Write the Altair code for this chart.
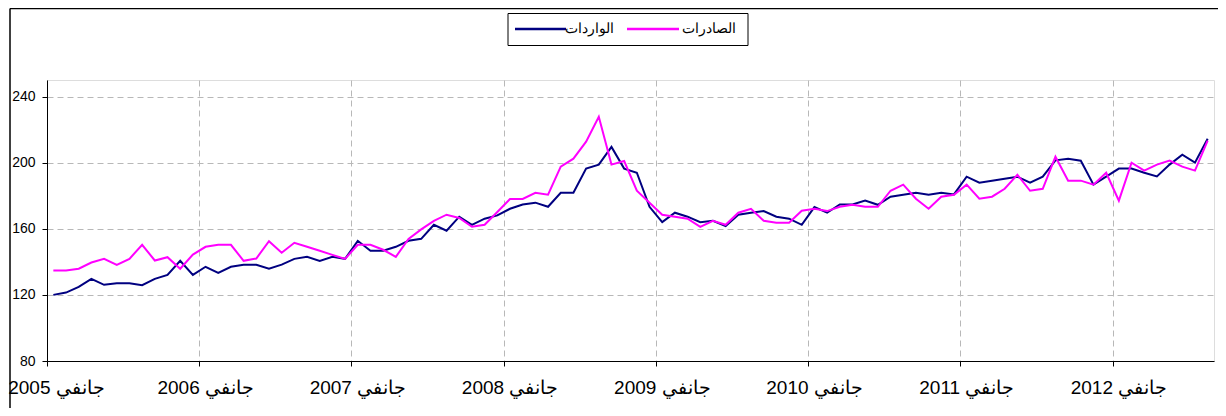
import altair as alt
import pandas as pd

imports_vals = [120.0, 121.4, 124.8, 129.7, 126.1, 127.1, 127.1, 125.9, 129.7, 132.1, 140.6, 132.1,
                137.0, 133.3, 137.0, 138.2, 138.2, 135.8, 138.3, 141.8, 143.0, 140.6, 143.0, 141.8,
                152.7, 146.7, 146.7, 149.1, 152.7, 153.9, 162.4, 158.8, 167.3, 162.4, 166.1, 168.1,
                172.1, 174.7, 175.8, 173.3, 181.8, 181.8, 196.4, 198.8, 209.5, 196.4, 193.9, 173.3,
                164.0, 169.7, 167.3, 164.0, 164.8, 161.6, 168.5, 169.7, 170.7, 167.3, 166.1, 162.4,
                173.1, 169.7, 174.7, 174.7, 177.0, 174.5, 179.4, 180.6, 181.8, 180.6, 181.8, 180.8,
                191.5, 187.9, 189.1, 190.3, 191.5, 187.9, 191.5, 201.4, 202.4, 201.2, 186.7, 191.5,
                196.4, 196.4, 193.9, 191.7, 198.8, 204.8, 200.0, 214.5]

exports_vals = [134.7, 134.7, 135.8, 139.6, 141.8, 138.2, 141.8, 150.3, 140.8, 142.8, 135.8, 144.4,
                149.1, 150.3, 150.3, 140.6, 142.0, 152.5, 145.5, 151.5, 149.1, 146.7, 144.2, 141.8,
                150.3, 150.3, 147.3, 143.0, 153.9, 159.6, 164.8, 168.5, 166.5, 161.2, 162.4, 170.1,
                178.0, 178.0, 181.8, 180.6, 197.6, 202.4, 212.7, 227.7, 198.8, 201.0, 183.0, 175.8,
                168.5, 167.3, 166.1, 161.2, 164.8, 162.4, 169.7, 172.1, 164.8, 163.6, 163.6, 170.9,
                172.1, 170.7, 173.3, 174.5, 173.3, 173.3, 183.0, 186.7, 178.2, 172.1, 179.4, 180.6,
                186.7, 178.2, 179.4, 184.2, 192.7, 183.0, 184.2, 203.6, 189.1, 189.1, 186.7, 193.9,
                177.0, 200.0, 195.2, 198.8, 201.2, 197.6, 195.2, 213.3]

series_names = ["الواردات", "الصادرات"]
series_colors = ["#000080", "#FF00FF"]
year_labels = ["جانفي 2005", "جانفي 2006", "جانفي 2007", "جانفي 2008",
               "جانفي 2009", "جانفي 2010", "جانفي 2011", "جانفي 2012"]
y_ticks = [80, 120, 160, 200, 240]

rows = []
for i, v in enumerate(imports_vals):
    rows.append({"m": i + 0.5, "v": v, "s": series_names[0]})
for i, v in enumerate(exports_vals):
    rows.append({"m": i + 0.5, "v": v, "s": series_names[1]})
df = pd.DataFrame(rows)

n_months = len(imports_vals)
label_arr = "[" + ",".join("'" + t + "'" for t in year_labels) + "]"

lines = alt.Chart(df).mark_line(strokeWidth=2).encode(
    x=alt.X("m:Q", scale=alt.Scale(domain=[0, n_months], nice=False, zero=False),
            axis=alt.Axis(values=[12 * k for k in range(len(year_labels))],
                          labelExpr=label_arr + "[round(datum.value/12)]",
                          title=None, grid=True, gridDash=[6, 4], gridColor="#b8b8b8",
                          domainColor="black", tickColor="black", tickSize=5,
                          labelFontSize=19, labelColor="black",
                          labelOffset={"condition": {"test": "datum.value == 0", "value": 9},
                                       "value": 6},
                          labelPadding=12,
                          labelFont="Liberation Sans", labelFlush=False)),
    y=alt.Y("v:Q", scale=alt.Scale(domain=[80, 250], nice=False, zero=False),
            axis=alt.Axis(values=y_ticks, title=None, grid=True, gridDash=[6, 4],
                          gridColor="#b8b8b8", domainColor="black", tickColor="black",
                          tickSize=5, labelFontSize=14, labelColor="black", labelPadding=7,
                          labelFont="Liberation Sans")),
    color=alt.Color("s:N", scale=alt.Scale(domain=series_names, range=series_colors),
                    legend=None),
)

one = pd.DataFrame({"d": [0]})

# frame of the chart
left_border = alt.Chart(one).mark_rule(color="black", strokeWidth=1.5).encode(
    x=alt.value(-37), y=alt.value(-71.5), y2=alt.value(330))
top_border = alt.Chart(one).mark_rule(color="black", strokeWidth=1.5).encode(
    x=alt.value(-37), x2=alt.value(1175), y=alt.value(-71.5))

# legend drawn by hand
leg_box = alt.Chart(one).mark_rect(fill="white", stroke="black", strokeWidth=1).encode(
    x=alt.value(461), x2=alt.value(701), y=alt.value(-66.5), y2=alt.value(-34.5))
leg_sym1 = alt.Chart(one).mark_rule(color=series_colors[0], strokeWidth=2.5).encode(
    x=alt.value(468), x2=alt.value(519), y=alt.value(-51))
leg_sym2 = alt.Chart(one).mark_rule(color=series_colors[1], strokeWidth=2.5).encode(
    x=alt.value(580), x2=alt.value(632), y=alt.value(-51))
leg_txt1 = alt.Chart(one).mark_text(align="center", baseline="middle", fontSize=13.5,
                                    font="Liberation Sans", color="black",
                                    text=series_names[0]).encode(
    x=alt.value(542), y=alt.value(-51))
leg_txt2 = alt.Chart(one).mark_text(align="center", baseline="middle", fontSize=13.5,
                                    font="Liberation Sans", color="black",
                                    text=series_names[1]).encode(
    x=alt.value(662), y=alt.value(-51))

chart = alt.layer(lines, left_border, top_border, leg_box, leg_sym1, leg_sym2,
                  leg_txt1, leg_txt2).properties(
    width=1167, height=281,
    padding={"left": 39, "top": 72, "right": 4, "bottom": 47},
    autosize="none",
).configure_view(stroke=None).configure(font="Liberation Sans")

chart.save("out.html", embed_options={"renderer": "svg", "actions": False})
